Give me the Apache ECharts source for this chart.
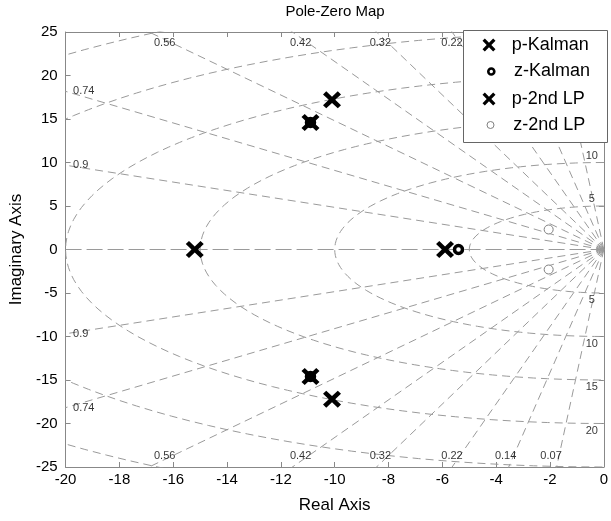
<!DOCTYPE html>
<html>
<head>
<meta charset="utf-8">
<script src="https://cdn.jsdelivr.net/npm/echarts@6/dist/echarts.min.js"></script>
<style>
html,body{margin:0;padding:0;background:#fff;}
#main{width:611px;height:521px;}
</style>
</head>
<body>
<div id="main"></div>
<script>
// pole / zero locations
var pKalman = [[-15.2, 0], [-10.9, 14.6], [-10.9, -14.6], [-5.9, 0]];
var zKalman = [[-5.4, 0], [-10.9, 14.6], [-10.9, -14.6]];
var p2ndLP = [[-10.1, 17.2], [-10.1, -17.2]];
var z2ndLP = [[-2.05, 2.3], [-2.05, -2.3]];

// grid: damping ratios and natural frequencies
var zetaVals = [0.07, 0.14, 0.22, 0.32, 0.42, 0.56, 0.74, 0.9];
var wnVals = [5, 10, 15, 20, 25, 30];
var wnLabels = [5, 10, 15, 20];

var FONT = 'Liberation Sans';
var xPath = 'path://M0,1.8L1.8,0L5,3.2L8.2,0L10,1.8L6.8,5L10,8.2L8.2,10L5,6.8L1.8,10L0,8.2L3.2,5Z';

var gridStyle = {color: '#9a9a9a', width: 1, type: [8, 5]};
var series = [];

// real axis line
series.push({type: 'line', silent: true, symbol: 'none', data: [[-20, 0], [0, 0]],
    lineStyle: {color: '#9a9a9a', width: 1, type: [16, 5]}, z: 1});

// damping rays
zetaVals.forEach(function(z){
    var s = Math.sqrt(1 - z * z);
    [1, -1].forEach(function(sg){
        series.push({type: 'line', silent: true, symbol: 'none',
            data: [[0, 0], [-60 * z, sg * 60 * s]], lineStyle: gridStyle, z: 1});
    });
});

// wn circles
wnVals.forEach(function(wn){
    var pts = [];
    for (var a = 90; a <= 270; a += 2) {
        var t = a * Math.PI / 180;
        pts.push([wn * Math.cos(t), wn * Math.sin(t)]);
    }
    series.push({type: 'line', silent: true, symbol: 'none', data: pts, lineStyle: gridStyle, z: 1});
});

// grid labels
var zLab = [];
zetaVals.forEach(function(z){
    var s = Math.sqrt(1 - z * z);
    [1, -1].forEach(function(sg){
        if (25 * z / s <= 20) {
            var y = 23.7;
            zLab.push({value: [-y * z / s, sg * y], name: String(z),
                label: {position: 'inside', offset: [-8, 0]}});
        } else {
            zLab.push({value: [-20, sg * 20 * s / z], name: String(z),
                label: {position: 'right', distance: 7}});
        }
    });
});
wnLabels.forEach(function(wn){
    [1, -1].forEach(function(sg){
        zLab.push({value: [0, sg * wn], name: String(wn),
            label: {position: 'inside', offset: [-12, -sg * 7]}});
    });
});
series.push({type: 'scatter', silent: true, symbolSize: 1, data: zLab, z: 1,
    itemStyle: {color: 'rgba(0,0,0,0)'},
    label: {show: true, formatter: '{b}', color: '#000', fontSize: 11, fontFamily: FONT}});

// poles and zeros (zeros under the poles)
series.push({name: 'z-Kalman', type: 'scatter', data: zKalman, symbol: 'circle', symbolSize: 8,
    itemStyle: {color: '#fff', borderColor: '#000', borderWidth: 3.5, opacity: 1}, z: 3});
series.push({name: 'z-2nd LP', type: 'scatter', data: z2ndLP, symbol: 'circle', symbolSize: 9,
    itemStyle: {color: '#fff', borderColor: '#808080', borderWidth: 1, opacity: 1}, z: 3});
series.push({name: 'p-Kalman', type: 'scatter', data: pKalman, symbol: xPath, symbolSize: [18, 17],
    symbolKeepAspect: false, itemStyle: {color: '#000', opacity: 1}, z: 4});
series.push({name: 'p-2nd LP', type: 'scatter', data: p2ndLP, symbol: xPath, symbolSize: [18, 17],
    symbolKeepAspect: false, itemStyle: {color: '#000', opacity: 1}, z: 4});

// one legend per entry so each icon keeps its own size
var legNames = ['p-Kalman', 'z-Kalman', 'p-2nd LP', 'z-2nd LP'];
var legRows = [47, 73.5, 101, 127];
var legIcons = [
    {icon: xPath, w: 15, h: 13, style: {color: '#000', borderWidth: 0, opacity: 1}},
    {icon: 'circle', w: 6, h: 6, style: {color: '#fff', borderColor: '#000', borderWidth: 2.6, opacity: 1}},
    {icon: xPath, w: 15, h: 13, style: {color: '#000', borderWidth: 0, opacity: 1}},
    {icon: 'circle', w: 7, h: 7, style: {color: '#fff', borderColor: '#808080', borderWidth: 1, opacity: 1}}
];
var legends = legNames.map(function(n, i){
    var ic = legIcons[i];
    return {
        data: [{name: n, icon: ic.icon}],
        left: 490 - ic.w / 2, top: legRows[i] - 11,
        padding: 0, itemWidth: ic.w, itemHeight: ic.h,
        itemStyle: ic.style, selectedMode: false, z: 6,
        textStyle: {fontSize: 18, fontFamily: FONT, color: '#000',
            padding: [0, 0, 0, 512.7 - (490 + ic.w / 2 + 5)]}
    };
});

var myChart = echarts.init(document.getElementById('main'));
myChart.setOption({
    animation: false,
    backgroundColor: '#fff',
    title: {text: 'Pole-Zero Map', left: 335, top: 4, textAlign: 'center', padding: 0,
        textStyle: {fontSize: 15, fontWeight: 'normal', color: '#000', fontFamily: FONT}},
    grid: {left: 62, right: 4, top: 32, bottom: 54},
    legend: legends,
    graphic: [{type: 'rect', shape: {x: 463.5, y: 30.5, width: 144, height: 112}, z: 5,
        style: {fill: '#fff', stroke: '#666', lineWidth: 1}}],
    xAxis: [{
        type: 'value', min: -20, max: 0, interval: 2,
        name: 'Real Axis', nameLocation: 'middle', nameGap: 30,
        nameTextStyle: {fontSize: 17, color: '#000', fontFamily: FONT},
        axisLine: {onZero: false, lineStyle: {color: '#888'}},
        axisTick: {inside: true, length: 5, lineStyle: {color: '#888'}},
        axisLabel: {fontSize: 15, color: '#000', fontFamily: FONT, margin: 5},
        splitLine: {show: false}
    }, {
        type: 'value', position: 'top', min: -20, max: 0, interval: 2,
        axisLine: {onZero: false, lineStyle: {color: '#888'}},
        axisTick: {inside: true, length: 5, lineStyle: {color: '#888'}},
        axisLabel: {show: false}, splitLine: {show: false}
    }],
    yAxis: [{
        type: 'value', min: -25, max: 25, interval: 5,
        name: 'Imaginary Axis', nameLocation: 'middle', nameGap: 33,
        nameTextStyle: {fontSize: 17, color: '#000', fontFamily: FONT},
        axisLine: {onZero: false, lineStyle: {color: '#888'}},
        axisTick: {inside: true, length: 5, lineStyle: {color: '#888'}},
        axisLabel: {fontSize: 15, color: '#000', fontFamily: FONT, margin: 8},
        splitLine: {show: false}
    }, {
        type: 'value', position: 'right', min: -25, max: 25, interval: 5,
        axisLine: {onZero: false, lineStyle: {color: '#888'}},
        axisTick: {inside: true, length: 5, lineStyle: {color: '#888'}},
        axisLabel: {show: false}, splitLine: {show: false}
    }],
    series: series
});
</script>
</body>
</html>
